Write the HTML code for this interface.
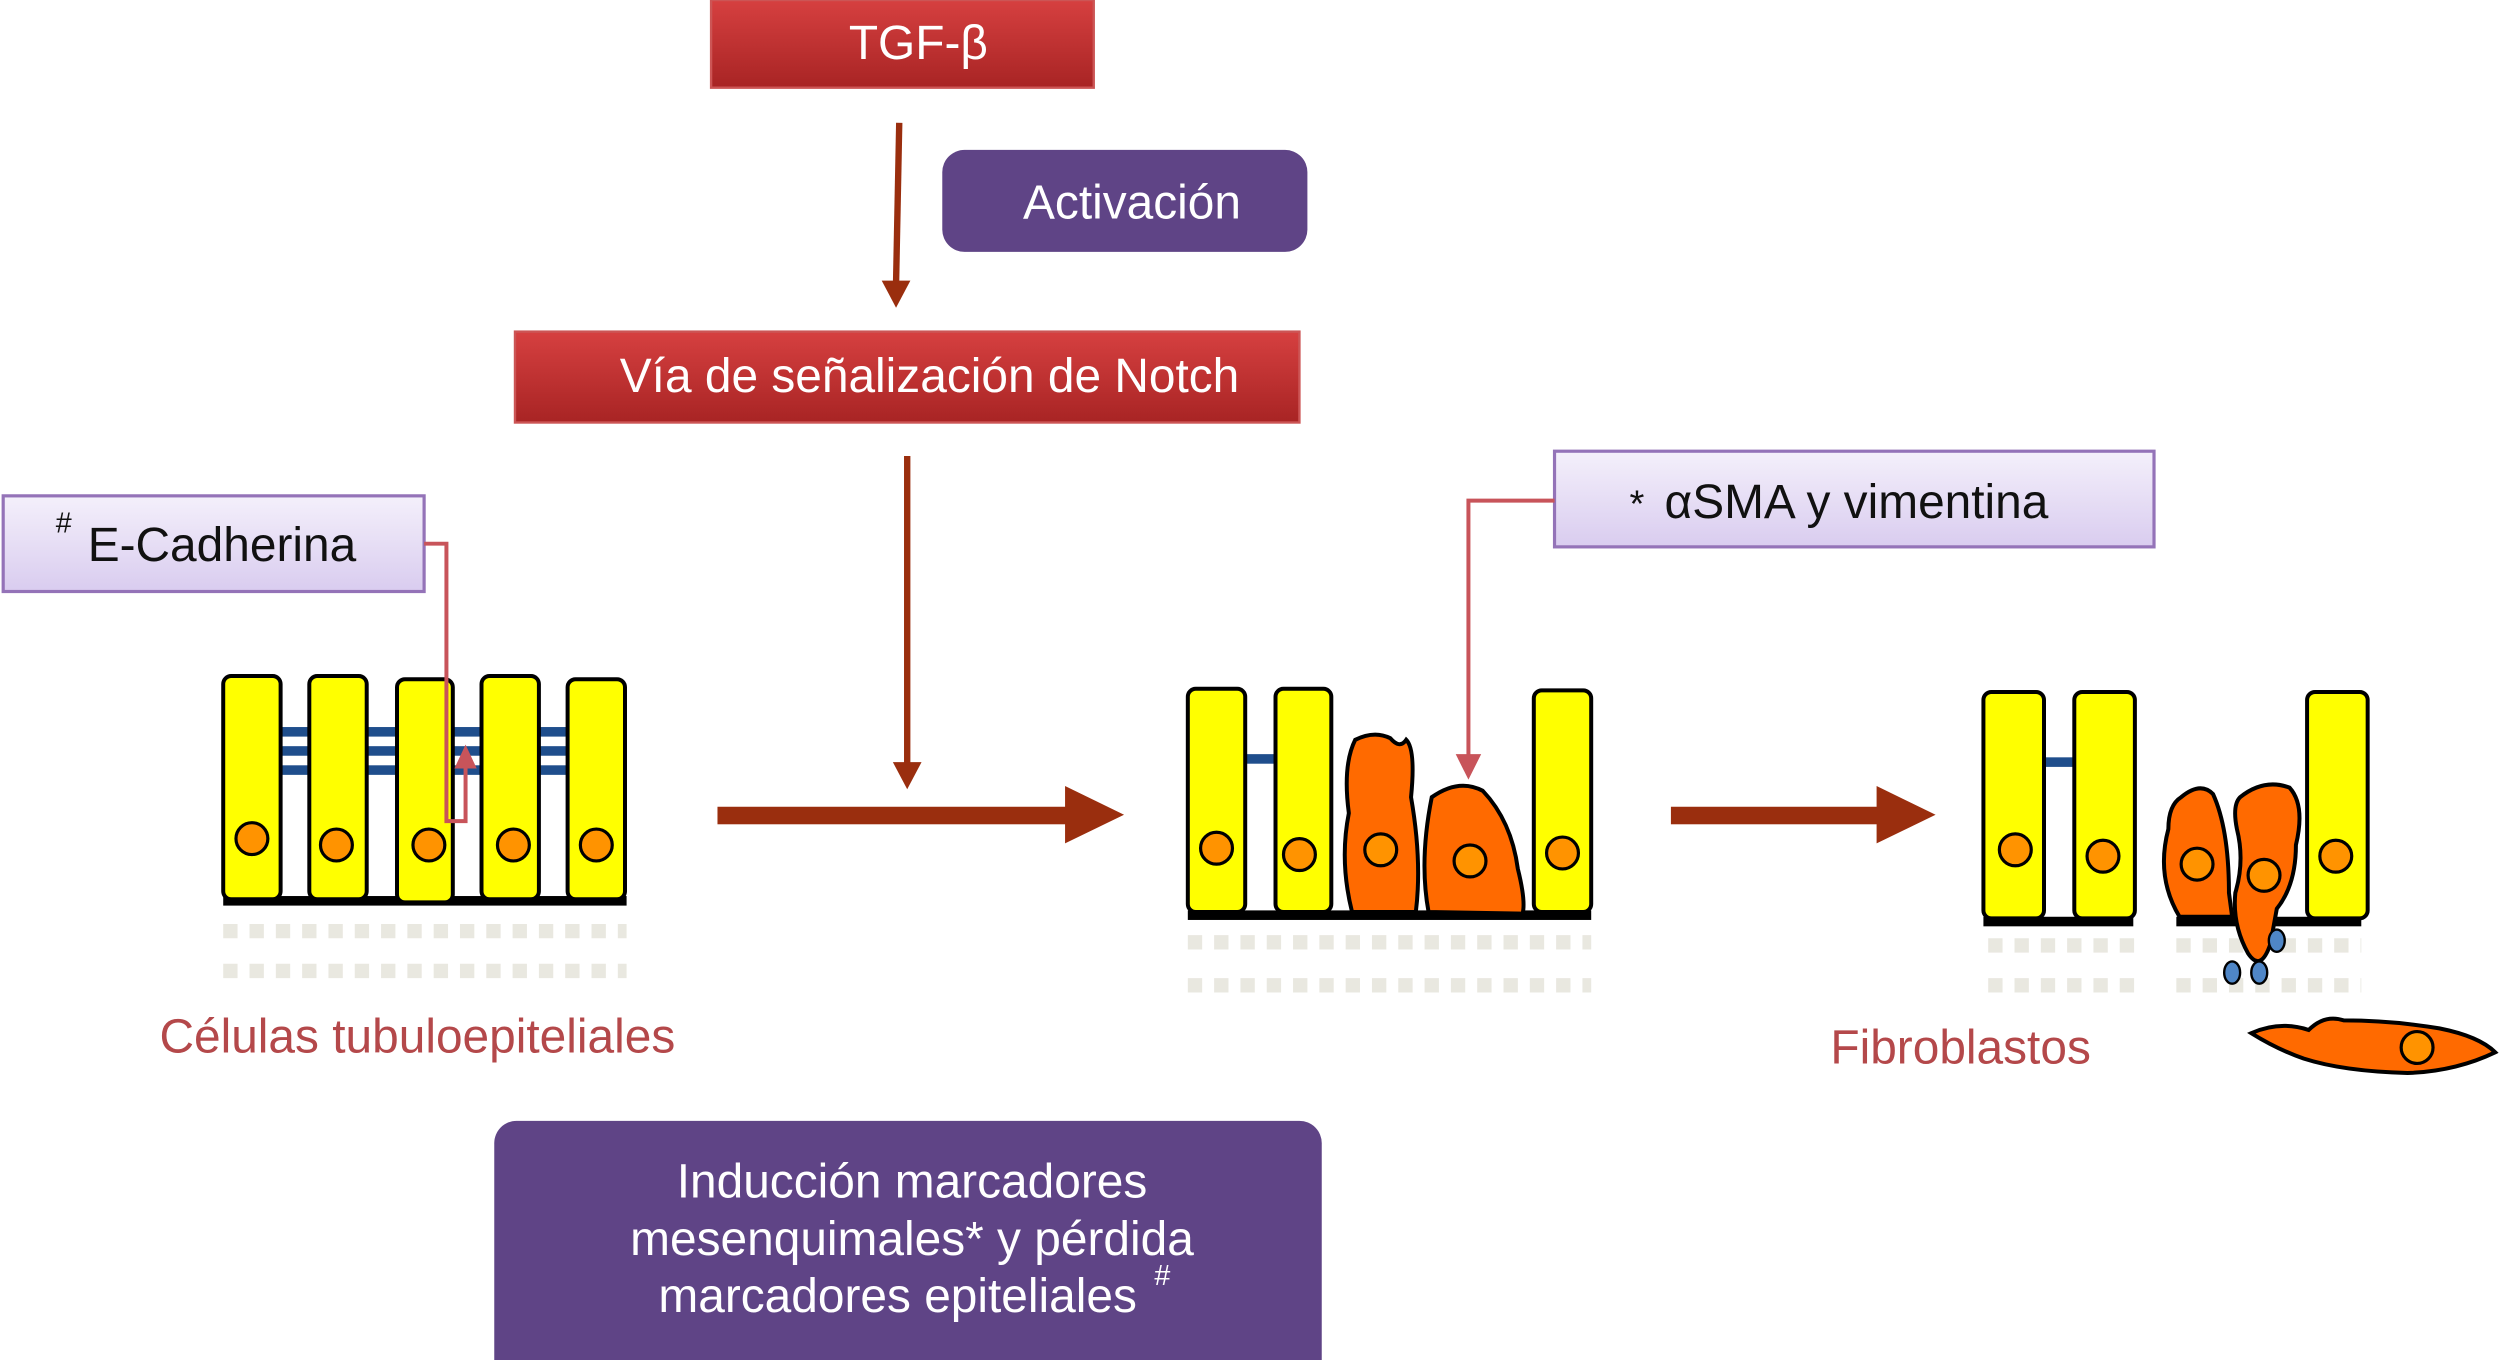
<!DOCTYPE html>
<html><head><meta charset="utf-8"><style>
html,body{margin:0;padding:0;background:#fff;}
svg{display:block;}
text{font-family:"Liberation Sans",sans-serif;}
</style></head><body>
<svg width="2500" height="1360" viewBox="0 0 1568 853" preserveAspectRatio="none" xmlns="http://www.w3.org/2000/svg">
<defs>
<linearGradient id="red" x1="0" y1="0" x2="0" y2="1"><stop offset="0" stop-color="#d64040"/><stop offset="1" stop-color="#a82424"/></linearGradient>
<linearGradient id="lav" x1="0" y1="0" x2="0" y2="1"><stop offset="0" stop-color="#f4f0fb"/><stop offset="1" stop-color="#d9ccef"/></linearGradient>
</defs>

<g stroke="#e9e8e0" stroke-width="9" stroke-dasharray="9 7.5">
<line x1="140" y1="584" x2="393" y2="584"/>
<line x1="140" y1="609" x2="393" y2="609"/>
<line x1="745" y1="591" x2="998" y2="591"/>
<line x1="745" y1="618" x2="998" y2="618"/>
<line x1="1247" y1="593" x2="1339" y2="593"/>
<line x1="1247" y1="618" x2="1339" y2="618"/>
<line x1="1365" y1="593" x2="1481" y2="593"/>
<line x1="1365" y1="618" x2="1481" y2="618"/>
</g>

<!-- top boxes -->
<rect x="446" y="0" width="240" height="55" fill="url(#red)" stroke="#c55" stroke-width="1.5"/>
<text x="576" y="37" font-size="30" fill="#fff" text-anchor="middle">TGF-β</text>
<line x1="564" y1="77" x2="562" y2="178" stroke="#9a2e0e" stroke-width="4"/>
<polygon points="553,176 571,176 562,193" fill="#9a2e0e"/>
<rect x="591" y="94" width="229" height="64" rx="14" fill="#5f4486"/>
<text x="710" y="137" font-size="30" fill="#fff" text-anchor="middle">Activación</text>
<rect x="323" y="208" width="492" height="57" fill="url(#red)" stroke="#c55" stroke-width="1.5"/>
<text x="583" y="246" font-size="30" fill="#fff" text-anchor="middle">Vía de señalización de Notch</text>
<line x1="569" y1="286" x2="569" y2="480" stroke="#9a2e0e" stroke-width="4"/>
<polygon points="560,478 578,478 569,495" fill="#9a2e0e"/>

<!-- big arrows -->
<rect x="450" y="506" width="222" height="11" fill="#9a2e0e"/>
<polygon points="668,493 705,511 668,529" fill="#9a2e0e"/>
<rect x="1048" y="506" width="133" height="11" fill="#9a2e0e"/>
<polygon points="1177,493 1214,511 1177,529" fill="#9a2e0e"/>

<!-- E-Cadherina -->
<rect x="2" y="311" width="264" height="60" fill="url(#lav)" stroke="#9473b8" stroke-width="2"/>
<text x="35" y="334" font-size="18" fill="#111">#</text>
<text x="55" y="352" font-size="30" fill="#111">E-Cadherina</text>

<!-- group 1 -->
<g fill="#1f4e8c">
<rect x="176" y="456" width="18" height="6"/><rect x="176" y="468" width="18" height="6"/><rect x="176" y="480" width="18" height="6"/>
<rect x="230" y="456" width="19" height="6"/><rect x="230" y="468" width="19" height="6"/><rect x="230" y="480" width="19" height="6"/>
<rect x="284" y="456" width="18" height="6"/><rect x="284" y="468" width="18" height="6"/><rect x="284" y="480" width="18" height="6"/>
<rect x="338" y="456" width="18" height="6"/><rect x="338" y="468" width="18" height="6"/><rect x="338" y="480" width="18" height="6"/>
</g>
<rect x="140" y="562" width="253" height="6" fill="#000"/>
<g fill="#ffff00" stroke="#000" stroke-width="2.5">
<rect x="140" y="424" width="36" height="140" rx="5"/>
<rect x="194" y="424" width="36" height="140" rx="5"/>
<rect x="249" y="426" width="35" height="140" rx="5"/>
<rect x="302" y="424" width="36" height="140" rx="5"/>
<rect x="356" y="426" width="36" height="138" rx="5"/>
</g>
<g fill="#ff9300" stroke="#000" stroke-width="2">
<circle cx="158" cy="526" r="10"/><circle cx="211" cy="530" r="10"/><circle cx="269" cy="530" r="10"/><circle cx="322" cy="530" r="10"/><circle cx="374" cy="530" r="10"/>
</g>
<polyline points="266,341 280,341 280,515 292,515 292,480" fill="none" stroke="#c8545a" stroke-width="2.5"/>
<polygon points="285,482 299,482 292,467" fill="#c8545a"/>
<text x="100" y="660" font-size="30" fill="#b4484a">Células tubuloepiteliales</text>

<!-- αSMA -->
<rect x="975" y="283" width="376" height="60" fill="url(#lav)" stroke="#9473b8" stroke-width="2"/>
<text x="1022" y="324" font-size="24" fill="#111">*</text>
<text x="1044" y="325" font-size="30" fill="#111">αSMA y vimentina</text>
<polyline points="975,314 921,314 921,475" fill="none" stroke="#c8545a" stroke-width="2.5"/>
<polygon points="913,473 929,473 921,489" fill="#c8545a"/>

<!-- group 2 -->
<rect x="781" y="473" width="19" height="6" fill="#1f4e8c"/>
<rect x="745" y="571" width="253" height="6" fill="#000"/>
<g fill="#ffff00" stroke="#000" stroke-width="2.5">
<rect x="745" y="432" width="36" height="140" rx="5"/>
<rect x="800" y="432" width="35" height="140" rx="5"/>
<rect x="962" y="433" width="36" height="139" rx="5"/>
</g>
<g fill="#ff6a00" stroke="#000" stroke-width="2.5">
<path d="M850,464 Q862,458 872,463 Q878,470 882,464 Q888,470 885,500 Q892,540 888,572 L848,572 Q840,540 846,510 Q842,480 850,464Z"/>
<path d="M898,500 Q915,488 930,496 Q948,515 952,545 Q957,565 955,573 L896,572 Q890,540 898,500Z"/>
</g>
<g fill="#ff9300" stroke="#000" stroke-width="2">
<circle cx="763" cy="532" r="10"/><circle cx="815" cy="536" r="10"/><circle cx="866" cy="533" r="10"/><circle cx="922" cy="540" r="10"/><circle cx="980" cy="535" r="10"/>
</g>

<!-- group 3 -->
<rect x="1282" y="475" width="19" height="6" fill="#1f4e8c"/>
<rect x="1244" y="575" width="94" height="6" fill="#000"/>
<rect x="1365" y="575" width="116" height="6" fill="#000"/>
<g fill="#ffff00" stroke="#000" stroke-width="2.5">
<rect x="1244" y="434" width="38" height="142" rx="5"/>
<rect x="1301" y="434" width="38" height="142" rx="5"/>
<rect x="1447" y="434" width="38" height="142" rx="5"/>
</g>
<g fill="#ff6a00" stroke="#000" stroke-width="2.5">
<path d="M1368,500 Q1380,490 1388,498 Q1398,520 1398,560 L1400,575 L1367,575 Q1352,550 1360,520 Q1360,505 1368,500Z"/>
<path d="M1405,500 Q1420,488 1436,494 Q1446,505 1440,530 Q1440,555 1428,570 L1424,592 Q1418,610 1410,598 Q1400,580 1402,560 Q1408,540 1403,520 Q1400,505 1405,500Z"/>
<path d="M1412,648 Q1430,640 1448,646 Q1458,636 1470,640 Q1500,640 1530,645 Q1555,650 1565,660 Q1540,672 1510,673 Q1470,672 1445,664 Q1428,658 1412,648Z"/>
</g>
<g fill="#ff9300" stroke="#000" stroke-width="2">
<circle cx="1264" cy="533" r="10"/><circle cx="1319" cy="537" r="10"/><circle cx="1378" cy="542" r="10"/><circle cx="1420" cy="549" r="10"/><circle cx="1465" cy="537" r="10"/><circle cx="1516" cy="657" r="10"/>
</g>
<g fill="#4f86c6" stroke="#000" stroke-width="1.5">
<ellipse cx="1428" cy="590" rx="5" ry="7"/><ellipse cx="1400" cy="610" rx="5" ry="7"/><ellipse cx="1417" cy="610" rx="5" ry="7"/>
</g>
<text x="1148" y="667" font-size="30" fill="#b4484a">Fibroblastos</text>

<!-- bottom box -->
<rect x="310" y="703" width="519" height="165" rx="14" fill="#5f4486"/>
<g font-size="30" fill="#fff" text-anchor="middle">
<text x="572" y="751">Inducción marcadores</text>
<text x="572" y="787">mesenquimales* y pérdida</text>
<text x="563" y="823">marcadores epiteliales</text>
</g>
<text x="724" y="806" font-size="18" fill="#fff">#</text>
</svg>
</body></html>
